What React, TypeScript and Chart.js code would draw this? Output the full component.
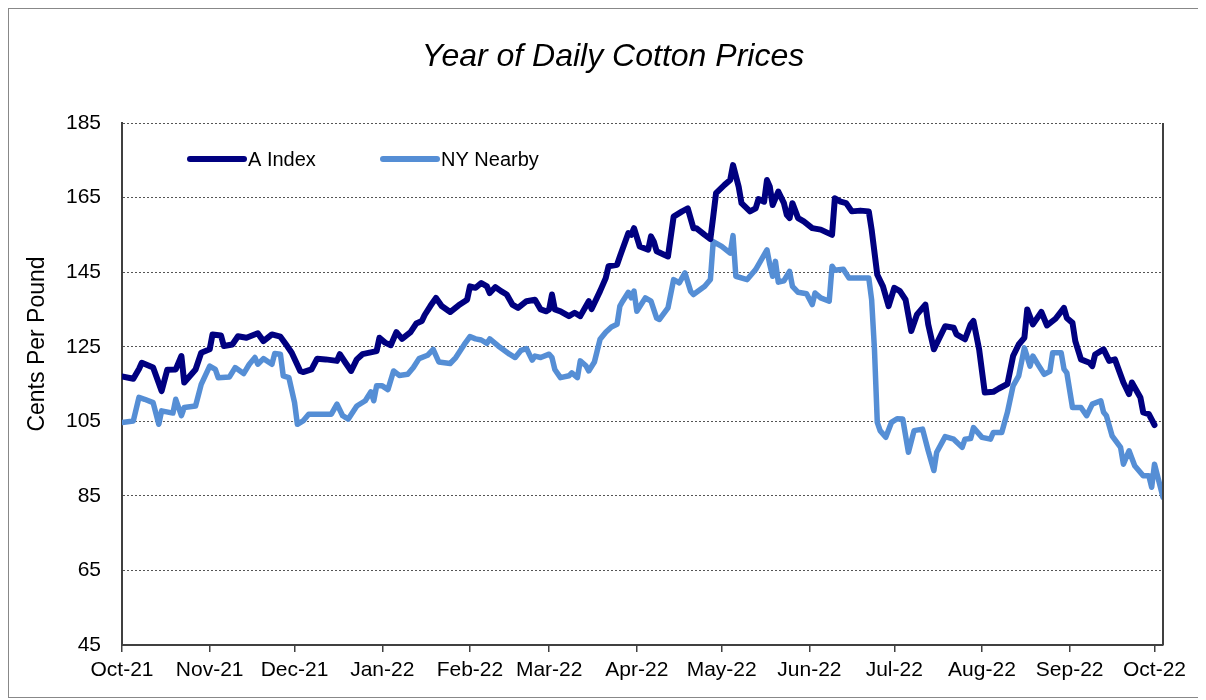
import { useEffect, useRef } from "react";
import { Chart, registerables } from "chart.js";

Chart.register(...registerables);

const chartTitle = "Year of Daily Cotton Prices";
const yAxisTitle = "Cents Per Pound";

// Days counted from 1 Oct 2021
const monthTickDays = [0, 31, 61, 92, 123, 151, 182, 212, 243, 273, 304, 335, 365];
const monthTickLabels = [
  "Oct-21", "Nov-21", "Dec-21", "Jan-22", "Feb-22", "Mar-22", "Apr-22",
  "May-22", "Jun-22", "Jul-22", "Aug-22", "Sep-22", "Oct-22",
];

const aIndexDays = [
  0, 4, 6, 7, 11, 14, 16, 19, 21, 22, 26, 28, 31, 32, 35, 36, 39, 41, 44, 48,
  50, 53, 56, 58, 60, 63, 64, 67, 69, 72, 76, 77, 79, 81, 83, 85, 90, 91, 93, 95,
  97, 99, 102, 104, 106, 107, 109, 111, 113, 116, 119, 122, 123, 125, 127, 129, 130, 132, 134, 136,
  138, 140, 143, 146, 148, 150, 151, 152, 153, 155, 158, 160, 162, 165, 166, 169, 171, 172, 175, 176,
  179, 180, 181, 183, 186, 187, 188, 189, 193, 195, 198, 200, 202, 203, 206, 208, 209, 210, 213, 215,
  216, 218, 219, 222, 224, 225, 227, 228, 229, 230, 232, 234, 235, 236, 237, 239, 241, 244, 247, 251,
  252, 254, 256, 258, 261, 264, 265, 267, 269, 271, 273, 275, 277, 279, 281, 284, 285, 287, 289, 291,
  294, 295, 298, 300, 301, 303, 305, 308, 310, 313, 315, 317, 319, 320, 322, 325, 327, 330, 333, 334,
  336, 337, 339, 342, 343, 344, 347, 349, 351, 354, 356, 357, 360, 361, 363, 365,
];
const aIndexValues = [
  117, 116.4, 119, 120.7, 119.4, 113.1, 118.8, 118.9, 122.5, 115.4, 118.9, 123.4, 124.3, 128.3, 128, 125.2, 125.6, 127.8, 127.4, 128.6,
  126.5, 128.3, 127.7, 125.6, 123.4, 118.5, 118.2, 118.9, 121.8, 121.6, 121.2, 123, 120.7, 118.5, 121.6, 123, 123.8, 127.4, 126.1, 125.4,
  128.9, 127.1, 128.9, 131.2, 131.9, 133.5, 135.9, 138.1, 135.9, 134.3, 136.1, 137.6, 141.2, 140.8, 142.1, 141.2, 139.4, 141, 139.9, 139,
  136.3, 135.4, 137.2, 137.6, 135, 134.5, 135, 139, 135, 134.5, 133.2, 134.1, 133.2, 137.2, 135.1, 139.9, 143.4, 146.6, 147, 149.2,
  155.5, 155, 156.8, 151.9, 151, 154.6, 153.2, 150.6, 149.2, 159.9, 161.3, 162.1, 156.8, 156.8, 155, 153.9, 159.9, 166.2, 168.4, 169.7,
  173.7, 167.9, 163.5, 161.3, 162.1, 164.6, 163.9, 169.7, 167.9, 163, 166.6, 163.5, 160.4, 159.5, 163.5, 159.5, 158.6, 156.8, 156.4, 155,
  164.8, 163.9, 163.5, 161.3, 161.5, 161.3, 156.4, 144.3, 141.2, 135.9, 140.8, 139.9, 137.6, 129.2, 133.6, 136.3, 131, 124.3, 127.4, 130.5,
  130.1, 128.3, 127, 131, 131.9, 124.3, 112.7, 112.9, 113.8, 115, 122.5, 125.6, 127.4, 135, 131, 134.3, 130.7, 132.5, 135.4, 132.7,
  131.4, 126.5, 121.6, 120.7, 119.8, 122.9, 124.3, 121.2, 121.6, 115.4, 112.3, 115.4, 111.4, 107.4, 106.9, 104,
];

const nyNearbyDays = [
  0, 4, 6, 8, 11, 13, 14, 18, 19, 21, 22, 26, 28, 31, 33, 34, 38, 40, 43, 45,
  47, 48, 50, 53, 54, 56, 57, 59, 61, 62, 64, 66, 70, 74, 76, 78, 80, 83, 86, 88,
  89, 90, 92, 94, 96, 98, 101, 103, 105, 108, 110, 112, 116, 118, 121, 123, 125, 127, 129, 130,
  133, 137, 139, 141, 143, 145, 146, 148, 151, 152, 153, 155, 158, 159, 161, 162, 164, 165, 167, 169,
  171, 173, 175, 176, 177, 179, 180, 181, 182, 185, 187, 189, 190, 193, 195, 197, 199, 201, 202, 206,
  208, 209, 212, 215, 216, 217, 221, 224, 228, 229, 230, 231, 232, 234, 236, 237, 239, 242, 244, 245,
  247, 250, 251, 252, 255, 257, 260, 264, 265, 266, 267, 268, 270, 272, 274, 276, 278, 280, 283, 285,
  287, 288, 291, 294, 297, 298, 300, 301, 304, 307, 308, 311, 313, 315, 317, 319, 321, 322, 324, 326,
  328, 329, 332, 333, 334, 336, 339, 341, 343, 346, 347, 348, 350, 353, 354, 356, 358, 361, 363, 364,
  365, 368,
];
const nyNearbyValues = [
  104.7, 105.1, 111.4, 110.9, 110, 104.2, 107.8, 107.2, 110.9, 106.5, 108.7, 109.1, 114.9, 119.8, 118.9, 116.7, 116.9, 119.4, 117.8, 120.3,
  122.1, 120.3, 121.8, 120.3, 123.2, 123, 117.2, 116.7, 110, 104.2, 105.1, 106.9, 106.9, 106.9, 109.6, 106.5, 105.6, 109.1, 110.5, 112.9,
  110.5, 114.5, 114.5, 113.5, 118.5, 117.3, 117.6, 119.4, 121.8, 122.7, 124.3, 120.9, 120.5, 122.1, 125.6, 127.7, 127.1, 126.8, 125.9, 127.1,
  125.2, 123, 122.1, 124, 124.5, 121.4, 122.5, 122.1, 123, 122.1, 118.9, 116.7, 117.2, 118, 116.7, 121.2, 119.9, 118.5, 120.9, 127,
  128.9, 130.3, 131, 135.9, 137.2, 139.6, 138.1, 139.9, 134.5, 138.1, 137.2, 132.7, 132.3, 135.4, 143, 142.1, 144.8, 139.9, 139, 141.2,
  143, 153.2, 151.9, 150.1, 154.8, 143.9, 143, 145.7, 151, 147, 143.9, 147.9, 142.3, 142.7, 145.2, 141.2, 139.6, 139.2, 136.3, 139.4,
  138.1, 137.2, 146.6, 145.5, 145.8, 143.4, 143.4, 143.4, 137.6, 124.3, 104.7, 102.5, 100.7, 104.7, 105.7, 105.6, 96.7, 102.5, 102.9, 97.1,
  91.8, 96.7, 100.9, 100.2, 98, 100.2, 100.4, 103.3, 100.7, 100.2, 102, 102, 107.4, 114.5, 117.2, 124.7, 119.8, 122.5, 120, 117.6,
  118.4, 123.4, 123.4, 119, 118, 108.7, 108.7, 106.5, 109.6, 110.5, 107.4, 106.5, 101.1, 98, 93.5, 97.1, 93.1, 90.4, 90.4, 87.3,
  93.5, 84.6,
];

const FONT = "'Liberation Sans', Arial, Helvetica, sans-serif";
const AXIS_COLOR = "#404040";
const A_COLOR = "#000080";
const NY_COLOR = "#558ED5";

const decorPlugin = {
  id: "decor",
  afterDraw(chart: any) {
    const { ctx, chartArea } = chart;
    ctx.save();
    // right border of plot area
    ctx.strokeStyle = AXIS_COLOR;
    ctx.lineWidth = 2;
    ctx.beginPath();
    ctx.moveTo(chartArea.right, chartArea.top);
    ctx.lineTo(chartArea.right, chartArea.bottom);
    ctx.stroke();

    // legend inside plot
    const ly = chartArea.top + 36;
    const entries = [
      { x: chartArea.left + 68, ds: chart.data.datasets[0] },
      { x: chartArea.left + 261, ds: chart.data.datasets[1] },
    ];
    ctx.font = `20px ${FONT}`;
    ctx.textBaseline = "middle";
    ctx.textAlign = "left";
    entries.forEach((e) => {
      ctx.strokeStyle = e.ds.borderColor;
      ctx.lineWidth = 6;
      ctx.lineCap = "round";
      ctx.beginPath();
      ctx.moveTo(e.x, ly);
      ctx.lineTo(e.x + 54, ly);
      ctx.stroke();
      ctx.fillStyle = "#000";
      ctx.fillText(e.ds.label, e.x + 58, ly + 1);
    });

    // y-axis title
    ctx.translate(29, 335);
    ctx.rotate(-Math.PI / 2);
    ctx.font = `23px ${FONT}`;
    ctx.textAlign = "center";
    ctx.textBaseline = "middle";
    ctx.fillStyle = "#000";
    ctx.fillText(yAxisTitle, 0, 0);
    ctx.restore();
  },
};

export default function App() {
  const canvasRef = useRef<HTMLCanvasElement | null>(null);

  useEffect(() => {
    if (!canvasRef.current) return;
    const chart = new Chart(canvasRef.current, {
      type: "line",
      data: {
        datasets: [
          {
            label: "A Index",
            data: aIndexDays.map((d, i) => ({ x: d, y: aIndexValues[i] })),
            borderColor: A_COLOR,
            backgroundColor: A_COLOR,
            borderWidth: 6,
            pointRadius: 0,
            tension: 0,
            borderJoinStyle: "round",
            borderCapStyle: "round",
          },
          {
            label: "NY Nearby",
            data: nyNearbyDays.map((d, i) => ({ x: d, y: nyNearbyValues[i] })),
            borderColor: NY_COLOR,
            backgroundColor: NY_COLOR,
            borderWidth: 5.5,
            pointRadius: 0,
            tension: 0,
            borderJoinStyle: "round",
            borderCapStyle: "round",
          },
        ],
      },
      options: {
        animation: false,
        responsive: true,
        maintainAspectRatio: false,
        layout: { padding: { left: 54, right: 40, top: 0, bottom: 0 } },
        plugins: {
          legend: { display: false },
          tooltip: { enabled: false },
          title: {
            display: true,
            text: chartTitle,
            color: "#000",
            font: { family: FONT, size: 32, style: "italic", weight: "normal", lineHeight: 1.2 },
            padding: { top: 29, bottom: 46.6 },
          },
        },
        scales: {
          x: {
            type: "linear",
            min: 0,
            max: 368,
            afterBuildTicks: (scale: any) => {
              scale.ticks = monthTickDays.map((v) => ({ value: v }));
            },
            afterFit: (scale: any) => {
              scale.height = 52;
            },
            ticks: {
              autoSkip: false,
              maxRotation: 0,
              padding: 6,
              color: "#000",
              font: { family: FONT, size: 21 },
              callback: (_v: any, i: number) => monthTickLabels[i],
            },
            grid: {
              drawOnChartArea: false,
              drawTicks: true,
              tickLength: 7,
              color: AXIS_COLOR,
              lineWidth: 1.5,
            },
            border: { display: true, color: AXIS_COLOR, width: 2 },
          },
          y: {
            min: 45,
            max: 185,
            afterFit: (scale: any) => {
              scale.width = 59;
            },
            ticks: {
              stepSize: 20,
              padding: 21,
              color: "#000",
              font: { family: FONT, size: 21 },
            },
            grid: {
              drawTicks: false,
              color: "#555",
              lineWidth: 1,
            },
            border: { display: true, color: AXIS_COLOR, width: 2, dash: [2, 2] },
          },
        },
      },
      plugins: [decorPlugin],
    });
    return () => chart.destroy();
  }, []);

  return (
    <div
      style={{
        position: "relative",
        width: 1196,
        height: 690,
        border: "1px solid #888",
        boxSizing: "border-box",
        background: "#fff",
      }}
    >
      <canvas ref={canvasRef} />
    </div>
  );
}
